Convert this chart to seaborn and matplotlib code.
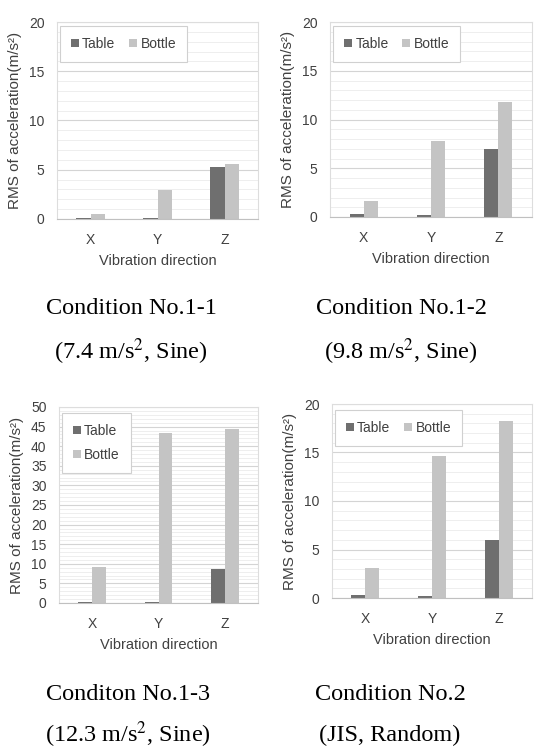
import numpy as np
import pandas as pd
import matplotlib
matplotlib.use("Agg")
import matplotlib.pyplot as plt
import seaborn as sns
from matplotlib.ticker import MultipleLocator

# Values
directions = ["X", "Y", "Z"]
sensors = ["Table", "Bottle"]

table_11 = [0.1, 0.1, 5.3]
bottle_11 = [0.5, 2.9, 5.6]
table_12 = [0.3, 0.2, 7.0]
bottle_12 = [1.6, 7.8, 11.8]
table_13 = [0.2, 0.2, 8.7]
bottle_13 = [9.1, 43.3, 44.3]
table_2 = [0.3, 0.2, 6.0]
bottle_2 = [3.1, 14.6, 18.2]

captions = [
    ("Condition No.1-1", r"(7.4 m/s$^{2}$, Sine)"),
    ("Condition No.1-2", r"(9.8 m/s$^{2}$, Sine)"),
    ("Conditon No.1-3", r"(12.3 m/s$^{2}$, Sine)"),
    ("Condition No.2", "(JIS, Random)"),
]

W, H = 535, 754
COLORS = {"Table": "#6f6f6f", "Bottle": "#c4c4c4"}
TEXT = "#404040"

sns.set_theme(style="white")
plt.rcParams["font.family"] = ["Liberation Sans", "DejaVu Sans"]
plt.rcParams["mathtext.fontset"] = "stix"

fig = plt.figure(figsize=(W / 100, H / 100), dpi=100)
fig.patch.set_facecolor("white")


def px_axes(left, top, right, bottom):
    return fig.add_axes([left / W, 1 - bottom / H, (right - left) / W, (bottom - top) / H])


def draw_panel(ax, table, bottle, ymax, ncol, box):
    df = pd.DataFrame({
        "Vibration direction": directions * 2,
        "Sensor": ["Table"] * 3 + ["Bottle"] * 3,
        "RMS": table + bottle,
    })
    sns.barplot(data=df, x="Vibration direction", y="RMS", hue="Sensor",
                hue_order=sensors, palette=COLORS, width=0.42, saturation=1,
                linewidth=0, ax=ax)
    ax.set_ylim(0, ymax)
    ax.set_xlim(-0.5, 2.5)
    ax.yaxis.set_major_locator(MultipleLocator(5))
    ax.yaxis.set_minor_locator(MultipleLocator(1))
    ax.set_axisbelow(True)
    ax.grid(axis="y", which="major", color="#d4d4d4", lw=0.8)
    ax.grid(axis="y", which="minor", color="#ebebeb", lw=0.6)
    for s in ax.spines.values():
        s.set_color("#dddddd")
        s.set_linewidth(0.8)
    ax.spines["bottom"].set_color("#c0c0c0")
    ax.tick_params(axis="both", which="both", length=0, labelsize=10, colors=TEXT)
    ax.tick_params(axis="y", pad=9)
    ax.tick_params(axis="x", pad=10)

    wpx = ax.get_position().width * W
    hpx = ax.get_position().height * H
    ax.set_ylabel("RMS of acceleration(m/s²)", fontsize=11, color=TEXT, va="center")
    ax.yaxis.set_label_coords(-42 / wpx, 0.5)
    ax.set_xlabel("Vibration direction", fontsize=10.5, color=TEXT, va="center")
    ax.xaxis.set_label_coords(0.5, -42 / hpx)

    leg = ax.legend(loc="upper left", bbox_to_anchor=box, borderaxespad=0,
                    ncol=ncol, fontsize=10, handlelength=0.55, handleheight=0.55,
                    handletextpad=0.25, columnspacing=1.0,
                    borderpad=0.8 if ncol == 2 else 0.8,
                    labelspacing=0.7, fancybox=False, framealpha=1)
    leg.get_frame().set_edgecolor("#d0d0d0")
    leg.get_frame().set_linewidth(0.8)
    for t in leg.get_texts():
        t.set_color(TEXT)


ax1 = px_axes(57, 22, 258, 219)
draw_panel(ax1, table_11, bottle_11, 20, 2, (0.015, 0.98))
ax2 = px_axes(330, 22, 532, 217)
draw_panel(ax2, table_12, bottle_12, 20, 2, (0.015, 0.98))
ax3 = px_axes(59, 407, 258, 603)
draw_panel(ax3, table_13, bottle_13, 50, 1, (0.015, 0.97))
ax4 = px_axes(332, 404, 532, 598)
draw_panel(ax4, table_2, bottle_2, 20, 2, (0.015, 0.97))

# Captions under each chart
cap_pos = [(131, 309, 352), (401, 309, 352), (128, 695, 735), (390, 695, 735)]
for (line1, line2), (cx, y1, y2) in zip(captions, cap_pos):
    fig.text(cx / W, 1 - y1 / H, line1, ha="center", va="center",
             family="Liberation Serif", fontsize=17.5, color="black")
    fig.text(cx / W, 1 - y2 / H, line2, ha="center", va="center",
             family="Liberation Serif", fontsize=17.5, color="black")

fig.savefig("out.png", dpi=100, facecolor="white")
